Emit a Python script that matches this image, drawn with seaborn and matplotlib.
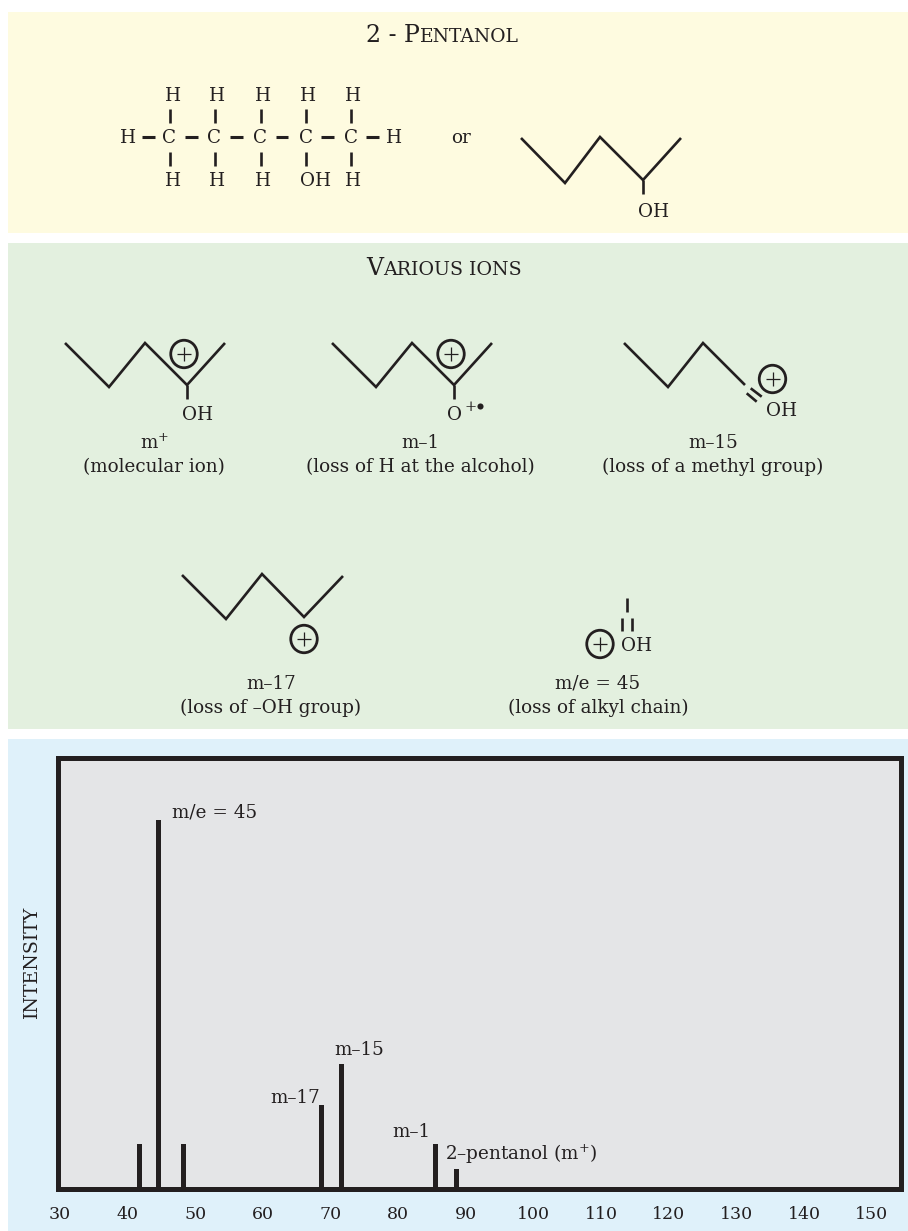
import matplotlib
matplotlib.use("Agg")
import matplotlib.pyplot as plt
from matplotlib.patches import Ellipse, Rectangle
import seaborn as sns

# spectrum (m/e vs intensity, tallest peak = 100)
mz_values = [41.8, 44.6, 48.2, 68.6, 71.6, 85.5, 88.6]
intensities = [12.2, 100.0, 12.2, 22.8, 33.9, 12.2, 5.4]
x_ticks = [30, 40, 50, 60, 70, 80, 90, 100, 110, 120, 130, 140, 150]

INK = "#231f20"
YELLOW = "#fefbe0"
GREEN = "#e3f0df"
BLUE = "#dff1fa"
GREY = "#e4e5e7"
FONT = "DejaVu Serif"
TXT = 13.2

W, H = 908, 1231

sns.set_theme(style="white")
plt.rcParams["font.family"] = FONT
plt.rcParams["mathtext.fontset"] = "custom"
plt.rcParams["mathtext.rm"] = FONT
plt.rcParams["mathtext.default"] = "rm"

fig = plt.figure(figsize=(W / 100, H / 100), dpi=100, facecolor="white")

# whole-figure layer in pixel units for the panels and the structures
bg = fig.add_axes([0, 0, 1, 1])
bg.set_xlim(0, W)
bg.set_ylim(H, 0)
bg.axis("off")

bg.add_patch(Rectangle((8, 12), 900, 221, color=YELLOW, lw=0))
bg.add_patch(Rectangle((8, 243), 900, 486, color=GREEN, lw=0))
bg.add_patch(Rectangle((8, 739), 900, 492, color=BLUE, lw=0))


def label(x, y, s, size=TXT, **kw):
    # +1 px: bbox centring sits a little high and left of the glyphs
    bg.text(x + 1, y + 1, s, size=size, color=INK, ha="center", va="center", **kw)


def seg(x1, y1, x2, y2, lw=1.9):
    bg.plot([x1, x2], [y1, y2], color=INK, lw=lw, solid_capstyle="butt")


def chain(xs, ys):
    bg.plot(xs, ys, color=INK, lw=1.9, solid_joinstyle="miter", solid_capstyle="butt")


def plus(x, y):
    bg.add_patch(Ellipse((x, y), 26.5, 27.5, fill=False, ec=INK, lw=2.0))
    seg(x - 7, y, x + 7, y, lw=0.9)
    seg(x, y - 7, x, y + 7, lw=0.9)


def small_caps(x, y, parts):
    # parts are (text, size); centred on x, sitting on baseline y
    r = fig.canvas.get_renderer()
    items = [bg.text(0, y, s, size=z, color=INK, ha="left", va="baseline") for s, z in parts]
    widths = [t.get_window_extent(r).width for t in items]
    left = x - sum(widths) / 2
    for t, w in zip(items, widths):
        t.set_x(left)
        left += w


small_caps(442.5, 42, [("2 - P", 17), ("ENTANOL", 13.5)])
small_caps(444, 275, [("V", 17), ("ARIOUS IONS", 13.7)])

# full structural formula
c_x = [168, 213, 259, 305, 350]
h_x = [172, 216, 262, 307, 352]
bond_x = [170, 215, 261, 306, 351]
for x in c_x:
    label(x, 137, "C")
for x in h_x:
    label(x, 95, "H")
for x in bond_x:
    seg(x, 109, x, 123, lw=1.9)
    seg(x, 152, x, 166, lw=1.9)
for x in h_x[:3] + h_x[4:]:
    label(x, 180, "H")
label(315, 180, "OH")
label(127, 137, "H")
label(393, 137, "H")
for a, b in [(142, 155), (185, 198), (230, 243), (276, 288), (321, 334), (366, 379)]:
    seg(a, 137, b, 137, lw=2.2)
label(460, 137, "or")

# line structure
chain([521, 565, 600, 643, 681], [138, 183, 137, 180, 138])
seg(643, 180, 643, 194)
label(653, 211, "OH")

# molecular ion
chain([65, 109, 145, 187, 225], [343, 387, 343, 385, 343])
seg(187, 385, 187, 399)
plus(184, 354)
label(197, 414, "OH")
label(153, 442, "m$^{+}$")
label(153, 466, "(molecular ion)")

# m-1
chain([332, 376, 412, 454, 492], [343, 387, 343, 385, 343])
seg(454, 385, 454, 399)
plus(451, 354)
label(454, 414, "O")
label(469.5, 406, "+", size=10.5)
bg.plot([480], [406], "o", color=INK, ms=4.4, mew=0)
label(419, 442, "m\u20131")
label(419, 466, "(loss of H at the alcohol)")

# m-15
chain([624, 668, 703, 745], [343, 387, 343, 385])
seg(750.7, 388.3, 761.7, 396.7)
seg(746.7, 393.3, 756.7, 401.7)
plus(772.5, 379)
label(781, 410, "OH")
label(712, 442, "m\u201315")
label(712, 466, "(loss of a methyl group)")

# m-17
chain([182, 226, 262, 304, 343], [575, 619, 574, 617, 576])
plus(304, 639)
label(270, 683, "m\u201317")
label(270, 707, "(loss of \u2013OH group)")

# m/e 45
seg(627, 598, 627, 612)
seg(621.5, 618, 621.5, 631)
seg(632, 618, 632, 631)
plus(600, 644)
label(636, 645, "OH")
label(597, 683, "m/e = 45")
label(597, 707, "(loss of alkyl chain)")

# spectrum
left, right, top, bottom = 58.3, 901.0, 757.5, 1189.0
ax = fig.add_axes([left / W, 1 - bottom / H, (right - left) / W, (bottom - top) / H])
ax.set_facecolor(GREY)
sns.barplot(x=mz_values, y=intensities, native_scale=True, color=INK, saturation=1,
            width=0.265, linewidth=0, ax=ax)
ax.set_xlim(29.75, 154.33)
ax.set_ylim(0, 116.9)
ax.set_xticks(x_ticks)
ax.set_xticklabels([str(t) for t in x_ticks], fontsize=12.5, color=INK)
ax.set_yticks([])
ax.tick_params(axis="x", length=0, pad=12.5)
for s in ax.spines.values():
    s.set_visible(True)
    s.set_color(INK)
    s.set_linewidth(3.6)
ax.set_xlabel("")
ax.set_ylabel("INTENSITY", fontsize=13.7, color=INK, va="center")
ax.yaxis.set_label_coords(-0.0312, 0.524)

ann = [
    (46.6, 102.0, "m/e = 45", "left"),
    (68.4, 24.7, "m\u201317", "right"),
    (70.5, 37.7, "m\u201315", "left"),
    (84.8, 15.5, "m\u20131", "right"),
    (86.9, 9.3, "2\u2013pentanol (m$^{+}$)", "left"),
]
for x, y, s, ha in ann:
    ax.text(x, y, s, fontsize=TXT, color=INK, ha=ha, va="center")

fig.savefig("out.png", dpi=100)
